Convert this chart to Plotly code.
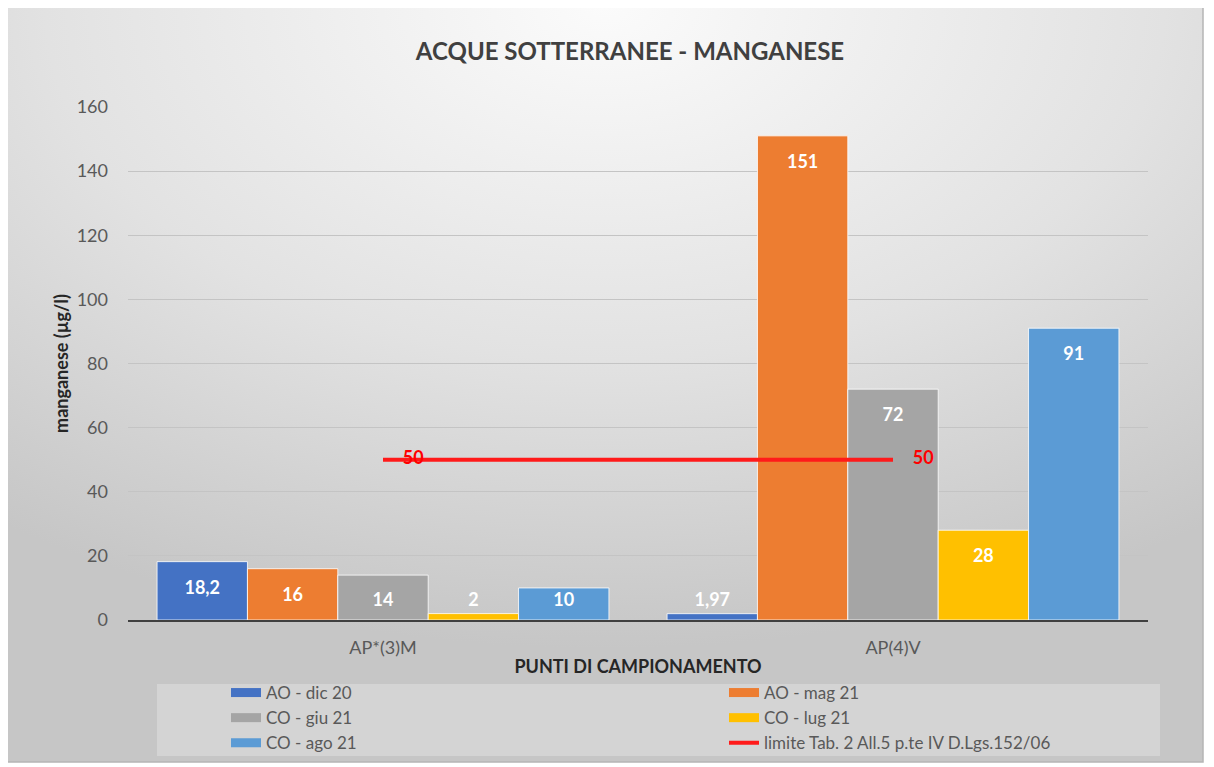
import base64
import plotly.graph_objects as go

# ---- data ----
categories = ["AP*(3)M", "AP(4)V"]
series_names = ["AO - dic 20", "AO - mag 21", "CO - giu 21", "CO - lug 21", "CO - ago 21"]
ao_dic20 = [18.2, 1.97]
ao_mag21 = [16, 151]
co_giu21 = [14, 72]
co_lug21 = [2, 28]
co_ago21 = [10, 91]
limit_name = "limite Tab. 2 All.5 p.te IV D.Lgs.152/06"
limit_values = [50, 50]
y_ticks = [0, 20, 40, 60, 80, 100, 120, 140, 160]

series_values = [ao_dic20, ao_mag21, co_giu21, co_lug21, co_ago21]
colors = ["#4472C4", "#ED7D31", "#A5A5A5", "#FFC000", "#5B9BD5"]
legend_of = ["legend", "legend2", "legend", "legend2", "legend"]

FONT = "Lato"
LABEL_MIN = 14.4  # labels of short bars are kept at a minimum height (like Excel)

def fmt(v):
    return ("%g" % v).replace(".", ",")

fig = go.Figure()
for name, vals, col in zip(series_names, series_values, colors):
    fig.add_trace(go.Bar(
        x=categories, y=vals, name=name, offsetgroup=name, legendgroup=name, showlegend=False,
        marker=dict(color=col, line=dict(color="rgba(255,255,255,0.8)", width=1)),
    ))
for name, vals in zip(series_names, series_values):
    fig.add_trace(go.Scatter(
        x=categories, y=[max(v, LABEL_MIN) for v in vals], offsetgroup=name,
        legendgroup=name, showlegend=False,
        mode="markers+text",
        marker=dict(size=28, color="rgba(0,0,0,0)"),
        text=[fmt(v) for v in vals], textposition="bottom center",
        textfont=dict(color="white", size=18, family=FONT, weight="bold"),
        hoverinfo="skip", cliponaxis=False,
    ))

# legend entries (wide colour swatches like the original)
for name, col, lg in zip(series_names, colors, legend_of):
    fig.add_trace(go.Scatter(
        x=[None], y=[None], xaxis="x3", name=name, legend=lg, legendgroup=name,
        mode="lines", line=dict(color=col, width=9),
    ))

fig.add_trace(go.Scatter(
    x=categories, y=limit_values, name=limit_name, xaxis="x2", legend="legend2",
    mode="lines+markers+text",
    line=dict(color="#FF1A1A", width=4),
    marker=dict(size=30, color="rgba(0,0,0,0)"),
    text=[str(v) for v in limit_values],
    textposition="middle right",
    textfont=dict(color="#FF0000", size=18, family=FONT, weight="bold"),
))

# background gradient (chart area) as an SVG image
svg = (
    '<svg xmlns="http://www.w3.org/2000/svg" width="1196" height="756" preserveAspectRatio="none">'
    '<defs><radialGradient id="g" cx="0.5" cy="0.0" r="0.85" fx="0.5" fy="0.0">'
    '<stop offset="0" stop-color="#fbfbfb"/>'
    '<stop offset="0.55" stop-color="#e2e2e2"/>'
    '<stop offset="1" stop-color="#c6c6c6"/>'
    '</radialGradient></defs>'
    '<rect width="1196" height="756" fill="url(#g)"/></svg>'
)
src = "data:image/svg+xml;base64," + base64.b64encode(svg.encode()).decode()

OFF = 8  # page offset of the figure (body margin)
W, H = 1214 - OFF, 767 - OFF
L, T = 128 - OFF, 107 - OFF
R = W - (1148 - OFF)
B = H - (620 - OFF)
pw, ph = W - L - R, H - T - B

def px(xp):  # page x -> paper fraction
    return (xp - OFF - L) / pw

def py(yp):  # page y -> paper fraction
    return (H - B - (yp - OFF)) / ph

legend_common = dict(
    orientation="v", xanchor="left", yanchor="top",
    font=dict(size=17, color="#595959", family=FONT),
    bgcolor="rgba(0,0,0,0)", traceorder="normal",
)

hidden_x = dict(type="category", range=[-0.5, 1.5], overlaying="x", showticklabels=False,
                showgrid=False, showline=False, zeroline=False, ticks="",
                categoryorder="array", categoryarray=categories)

fig.update_layout(
    width=W, height=H,
    margin=dict(l=L, r=R, t=T, b=B, autoexpand=False),
    paper_bgcolor="white",
    plot_bgcolor="rgba(0,0,0,0)",
    font=dict(family=FONT, color="#595959"),
    barmode="group",
    scattermode="group",
    bargap=0.114,
    bargroupgap=0,
    title=dict(text="<b>ACQUE SOTTERRANEE - MANGANESE</b>", x=(630 - OFF) / W, xanchor="center",
               y=1 - (52 - OFF) / H, yanchor="middle",
               font=dict(size=24, color="#404040", family=FONT)),
    xaxis=dict(
        range=[-0.5, 1.5], zeroline=False,
        showline=True, linecolor="#404040", linewidth=2,
        ticks="", showgrid=False, ticklabelstandoff=10,
        tickfont=dict(size=18, color="#595959"),
        title=dict(text="<b>PUNTI DI CAMPIONAMENTO</b>", font=dict(size=18, color="#262626"), standoff=4),
    ),
    xaxis2=hidden_x,
    xaxis3=hidden_x,
    yaxis=dict(
        range=[0, 160], tickvals=y_ticks, showgrid=True, gridcolor="#c4c4c4", gridwidth=1,
        zeroline=False, ticks="", ticklabelstandoff=19,
        tickfont=dict(size=18, color="#595959"),
        title=dict(text="<b>manganese (µg/l)</b>", font=dict(size=18, color="#262626"), standoff=3),
    ),
    legend=dict(x=px(226), y=py(675), **legend_common),
    legend2=dict(x=px(724), y=py(675), **legend_common),
    images=[dict(source=src, xref="paper", yref="paper", x=px(7), y=py(6),
                 sizex=(1203 - 7) / pw, sizey=(762 - 6) / ph,
                 xanchor="left", yanchor="top", sizing="stretch", layer="below")],
    shapes=[
        dict(type="rect", xref="paper", yref="paper", x0=px(7), x1=px(1203), y0=py(762), y1=py(6),
             line=dict(color="#b5b5b5", width=1.5), fillcolor="rgba(0,0,0,0)", layer="below"),
        dict(type="rect", xref="paper", yref="paper", x0=px(157), x1=px(1160), y0=py(756), y1=py(684),
             line=dict(width=0), fillcolor="rgba(255,255,255,0.25)", layer="below"),
    ],
)

fig.write_html("out.html")
